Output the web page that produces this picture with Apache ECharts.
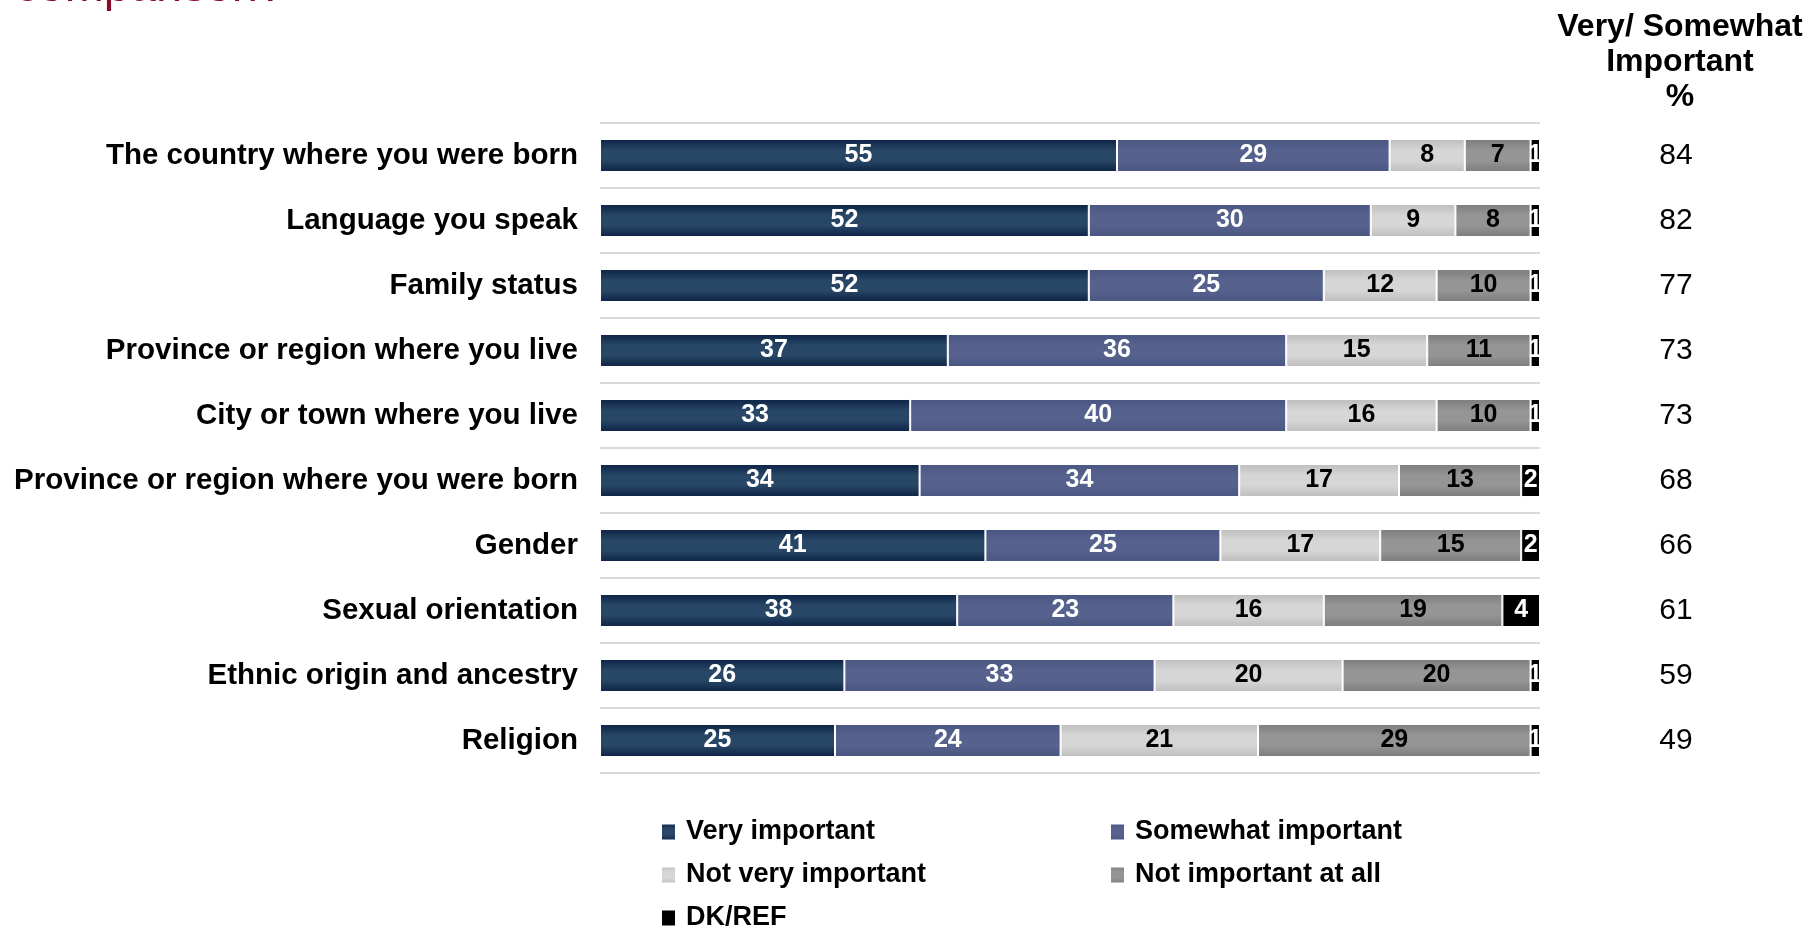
<!DOCTYPE html>
<html>
<head>
<meta charset="utf-8">
<title>Importance to identity</title>
<script src="https://cdn.jsdelivr.net/npm/echarts@6/dist/echarts.min.js"></script>
<style>
  html, body { margin: 0; padding: 0; background: #fff; }
  #chart { width: 1808px; height: 929px; }
</style>
</head>
<body>
<div id="chart"></div>
<script>
// Survey items (top to bottom)
const categories = [
  'The country where you were born',
  'Language you speak',
  'Family status',
  'Province or region where you live',
  'City or town where you live',
  'Province or region where you were born',
  'Gender',
  'Sexual orientation',
  'Ethnic origin and ancestry',
  'Religion'
];

// Response shares, %
const veryImportant      = [55, 52, 52, 37, 33, 34, 41, 38, 26, 25];
const somewhatImportant  = [29, 30, 25, 36, 40, 34, 25, 23, 33, 24];
const notVeryImportant   = [8, 9, 12, 15, 16, 17, 17, 16, 20, 21];
const notImportantAtAll  = [7, 8, 10, 11, 10, 13, 15, 19, 20, 29];
const dkRef              = [1, 1, 1, 1, 1, 2, 2, 4, 1, 1];

// Net "Very/ Somewhat Important" column
const veryOrSomewhat     = [84, 82, 77, 73, 73, 68, 66, 61, 59, 49];

const seriesNames = ['Very important', 'Somewhat important', 'Not very important', 'Not important at all', 'DK/REF'];

const FONT = '"Liberation Sans", Arial, Helvetica, sans-serif';

function vgrad(edge, mid) {
  return new echarts.graphic.LinearGradient(0, 0, 0, 1, [
    { offset: 0, color: edge },
    { offset: 0.35, color: mid },
    { offset: 0.65, color: mid },
    { offset: 1, color: edge }
  ]);
}

const fills = [
  vgrad('#0c2244', '#284766'),
  vgrad('#4a5682', '#56628d'),
  vgrad('#bdbdbd', '#d6d6d6'),
  vgrad('#7c7c7c', '#959595'),
  '#000000'
];
const labelColors = ['#ffffff', '#ffffff', '#000000', '#000000', '#ffffff'];
const values = [veryImportant, somewhatImportant, notVeryImportant, notImportantAtAll, dkRef];

const series = seriesNames.map((name, i) => ({
  name: name,
  type: 'bar',
  stack: 'total',
  barWidth: 33,
  data: values[i],
  itemStyle: { color: fills[i], borderColor: '#ffffff', borderWidth: 1 },
  label: {
    show: true,
    position: 'inside',
    color: labelColors[i],
    fontFamily: FONT,
    fontWeight: 'bold',
    fontSize: 25
  },
  emphasis: { disabled: true }
}));

const legendText = {
  fontFamily: FONT,
  fontWeight: 'bold',
  fontSize: 27,
  lineHeight: 30,
  color: '#000',
  padding: [0, 0, 0, 5]
};

const chart = echarts.init(document.getElementById('chart'), null, { renderer: 'canvas' });

chart.setOption({
  animation: false,
  backgroundColor: '#ffffff',
  title: {
    text: 'Very/ Somewhat\nImportant\n%',
    left: 1675,
    top: 5,
    textAlign: 'center',
    textStyle: {
      fontFamily: FONT,
      fontWeight: 'bold',
      fontSize: 32,
      lineHeight: 35,
      color: '#000000'
    }
  },
  graphic: [{
    type: 'text',
    left: 15,
    top: -35,
    style: {
      text: 'comparison?',
      font: '47px ' + FONT,
      fill: '#8c0a2b'
    }
  }],
  legend: [
    {
      orient: 'vertical',
      left: 655,
      top: 812,
      height: 140,
      itemGap: 13,
      itemWidth: 15,
      itemHeight: 17,
      icon: 'rect',
      selectedMode: false,
      data: ['Very important', 'Not very important', 'DK/REF'],
      textStyle: legendText
    },
    {
      orient: 'vertical',
      left: 1104,
      top: 812,
      height: 140,
      itemGap: 13,
      itemWidth: 15,
      itemHeight: 17,
      icon: 'rect',
      selectedMode: false,
      data: ['Somewhat important', 'Not important at all'],
      textStyle: legendText
    }
  ],
  grid: { left: 600, right: 268, top: 123, bottom: 156, containLabel: false },
  xAxis: { type: 'value', min: 0, max: 100, show: false },
  yAxis: [
    {
      type: 'category',
      inverse: true,
      data: categories,
      axisLine: { show: false },
      axisTick: { show: false },
      splitLine: { show: true, lineStyle: { color: '#d9d9d9', width: 2 } },
      axisLabel: {
        margin: 22,
        color: '#000',
        fontFamily: FONT,
        fontWeight: 'bold',
        fontSize: 29.5
      }
    },
    {
      type: 'category',
      inverse: true,
      position: 'right',
      data: veryOrSomewhat.map(String),
      axisLine: { show: false },
      axisTick: { show: false },
      splitLine: { show: false },
      axisLabel: {
        margin: 136,
        align: 'center',
        color: '#000',
        fontFamily: FONT,
        fontSize: 30
      }
    }
  ],
  series: series
});
</script>
</body>
</html>
